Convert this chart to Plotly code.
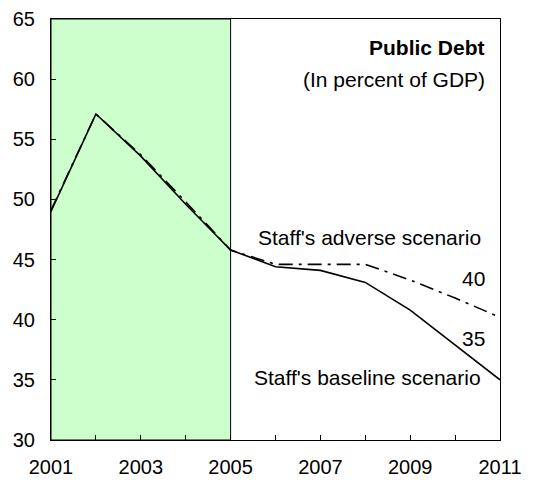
import plotly.graph_objects as go

# Public debt, in percent of GDP
years = [2001, 2002, 2003, 2004, 2005, 2006, 2007, 2008, 2009, 2010, 2011]
baseline = [49.0, 57.1, 53.6, 49.6, 45.8, 44.4, 44.1, 43.1, 40.8, 37.9, 35.0]
adverse = [49.1, 57.1, 53.7, 49.8, 45.8, 44.6, 44.6, 44.6, 43.3, 41.8, 40.2]
history_start, history_end = 2001, 2005

x_ticks = [2001, 2003, 2005, 2007, 2009, 2011]
y_ticks = [30, 35, 40, 45, 50, 55, 60, 65]

FONT = "Liberation Sans, Arial, sans-serif"

fig = go.Figure()

# shaded historical period
fig.add_shape(type="rect", xref="x", yref="y",
              x0=history_start, x1=history_end, y0=30, y1=65,
              fillcolor="#CCFFCC", line=dict(color="black", width=1),
              layer="below")

fig.add_trace(go.Scatter(x=years, y=adverse, mode="lines",
                         line=dict(color="black", width=1.6,
                                   dash="14px,6px,3px,6px"),
                         hoverinfo="skip", showlegend=False))
fig.add_trace(go.Scatter(x=years, y=baseline, mode="lines",
                         line=dict(color="black", width=1.6),
                         hoverinfo="skip", showlegend=False))

ann_font = dict(family=FONT, size=21, color="black")
fig.add_annotation(x=2011, y=62.6, xref="x", yref="y", text="<b>Public Debt</b>",
                   showarrow=False, xanchor="right", xshift=-13, font=ann_font)
fig.add_annotation(x=2011, y=60.0, xref="x", yref="y", text="(In percent of GDP)",
                   showarrow=False, xanchor="right", xshift=-13, font=ann_font)
fig.add_annotation(x=2011, y=46.8, xref="x", yref="y", text="Staff's adverse scenario",
                   showarrow=False, xanchor="right", xshift=-17, font=ann_font)
fig.add_annotation(x=2011, y=adverse[-1] + 3.2, xref="x", yref="y", text=f"{40}",
                   showarrow=False, xanchor="right", xshift=-13, font=ann_font)
fig.add_annotation(x=2011, y=baseline[-1] + 3.4, xref="x", yref="y", text=f"{35}",
                   showarrow=False, xanchor="right", xshift=-13, font=ann_font)
fig.add_annotation(x=2011, y=35.2, xref="x", yref="y", text="Staff's baseline scenario",
                   showarrow=False, xanchor="right", xshift=-17, font=ann_font)

fig.update_xaxes(range=[2001, 2011], tickvals=x_ticks, ticktext=[str(v) for v in x_ticks],
                 ticks="inside", ticklen=5, tickcolor="black",
                 minor=dict(dtick=1, tick0=2001, ticks="inside", ticklen=5, tickcolor="black"),
                 showline=True, linecolor="black", linewidth=1, mirror=True,
                 showgrid=False, zeroline=False, ticklabelstandoff=9, automargin=False,
                 tickfont=dict(family=FONT, size=20, color="black"))
fig.update_yaxes(range=[30, 65], tickvals=y_ticks,
                 ticks="inside", ticklen=5, tickcolor="black",
                 showline=True, linecolor="black", linewidth=1, mirror=True,
                 showgrid=False, zeroline=False, ticklabelstandoff=11, automargin=False,
                 tickfont=dict(family=FONT, size=20, color="black"))

fig.update_layout(width=545, height=480,
                  margin=dict(l=51, r=45, t=19, b=40),
                  plot_bgcolor="white", paper_bgcolor="white",
                  showlegend=False)

fig.write_html("out.html")
